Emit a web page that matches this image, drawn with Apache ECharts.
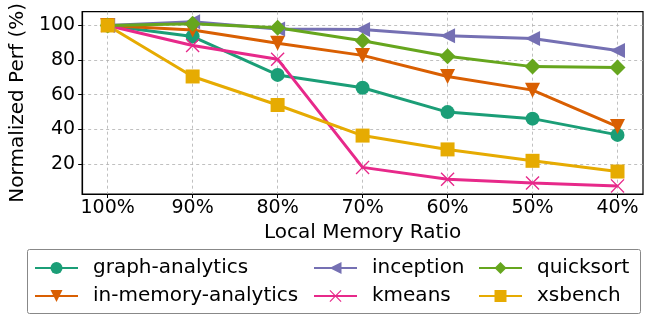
<!DOCTYPE html>
<html>
<head>
<meta charset="utf-8">
<script src="https://cdn.jsdelivr.net/npm/echarts@6/dist/echarts.min.js"></script>
<style>
  html, body { margin: 0; padding: 0; background: #fff; }
  #chart { width: 653px; height: 316px; }
</style>
</head>
<body>
<div id="chart"></div>
<script>
// x positions 0..6 stand for these ratios
const ratios = ['100%', '90%', '80%', '70%', '60%', '50%', '40%'];
const yTicks = [20, 40, 60, 80, 100];

const graphAnalytics = [100, 93.6, 71.4, 64.0, 49.9, 46.1, 36.7];
const inMemoryAnalytics = [100, 97.4, 89.7, 82.7, 70.5, 62.6, 41.5];
const inception = [100, 102.2, 98.0, 97.7, 94.0, 92.5, 85.5];
const kmeans = [100, 88.4, 80.5, 17.9, 11.0, 8.9, 7.2];
const quicksort = [100, 101.0, 98.7, 91.2, 82.2, 76.2, 75.7];
const xsbench = [100, 70.5, 54.0, 36.3, 28.3, 21.7, 15.5];

const FONT = 'DejaVu Sans';

const shapes = {
  circle: 'circle',
  triDown: 'path://M0,0L10,0L5,10Z',
  triLeft: 'path://M0,5L10,0L10,10Z',
  cross: 'path://M0,0.7L0.7,0L5,4.3L9.3,0L10,0.7L5.7,5L10,9.3L9.3,10L5,5.7L0.7,10L0,9.3L4.3,5Z',
  diamond: 'path://M5,0L10,5L5,10L0,5Z',
  square: 'rect'
};

// plot order (matplotlib legend goes column by column)
const seriesDefs = [
  { name: 'graph-analytics', data: graphAnalytics, color: '#1b9e77', symbol: shapes.circle, size: 14 },
  { name: 'in-memory-analytics', data: inMemoryAnalytics, color: '#d95f02', symbol: shapes.triDown, size: 15 },
  { name: 'inception', data: inception, color: '#7570b3', symbol: shapes.triLeft, size: 15 },
  { name: 'kmeans', data: kmeans, color: '#e7298a', symbol: shapes.cross, size: 14 },
  { name: 'quicksort', data: quicksort, color: '#66a61e', symbol: shapes.diamond, size: 16 },
  { name: 'xsbench', data: xsbench, color: '#e6ab02', symbol: shapes.square, size: 14 }
];

const series = seriesDefs.map(function (s) {
  return {
    name: s.name,
    type: 'line',
    data: s.data.map(function (v, i) { return [i, v]; }),
    symbol: s.symbol,
    symbolSize: s.size,
    showAllSymbol: true,
    color: s.color,
    lineStyle: { width: 3, color: s.color },
    itemStyle: { color: s.color, opacity: 1 },
    emphasis: { disabled: true },
    animation: false
  };
});

function legendCol(names, left) {
  return {
    orient: 'vertical',
    left: left,
    top: 258,
    padding: 0,
    itemGap: 8,
    itemWidth: 43,
    itemHeight: 15,
    data: names,
    textStyle: { fontFamily: FONT, fontSize: 20, lineHeight: 20, color: '#000', padding: [0, 0, 0, 10] },
    selectedMode: false
  };
}

const chart = echarts.init(document.getElementById('chart'));
chart.setOption({
  backgroundColor: '#fff',
  animation: false,
  grid: {
    left: 79, right: 10, top: 7, bottom: 122,
    show: true, borderColor: '#000', borderWidth: 1.2, backgroundColor: 'transparent'
  },
  xAxis: {
    type: 'value',
    min: -0.3,
    max: 6.3,
    name: 'Local Memory Ratio',
    nameLocation: 'middle',
    nameGap: 29,
    nameTextStyle: { fontFamily: FONT, fontSize: 20, color: '#000' },
    axisLine: { show: true, onZero: false, lineStyle: { color: '#000', width: 1.2 } },
    axisTick: { show: true, length: 4, lineStyle: { color: '#000' }, customValues: [0, 1, 2, 3, 4, 5, 6] },
    axisLabel: {
      fontFamily: FONT, fontSize: 19, color: '#000', margin: 5,
      customValues: [0, 1, 2, 3, 4, 5, 6],
      formatter: function (v) { return ratios[Math.round(v)]; }
    },
    splitLine: { show: true, lineStyle: { color: '#b0b0b0', type: [3, 3], width: 0.8 } }
  },
  yAxis: {
    type: 'value',
    min: 2.5,
    max: 108,
    name: 'Normalized Perf (%)',
    nameLocation: 'middle',
    nameGap: 51,
    nameTextStyle: { fontFamily: FONT, fontSize: 20, color: '#000' },
    axisLine: { show: true, onZero: false, lineStyle: { color: '#000', width: 1.2 } },
    axisTick: { show: true, length: 4, lineStyle: { color: '#000' }, customValues: yTicks },
    axisLabel: { fontFamily: FONT, fontSize: 19, color: '#000', margin: 7, customValues: yTicks },
    splitLine: { show: true, lineStyle: { color: '#b0b0b0', type: [3, 3], width: 0.8 } }
  },
  legend: [
    legendCol(['graph-analytics', 'in-memory-analytics'], 34),
    legendCol(['inception', 'kmeans'], 313),
    legendCol(['quicksort', 'xsbench'], 478)
  ],
  graphic: [{
    type: 'rect',
    shape: { x: 27.5, y: 249.5, width: 613, height: 64, r: 2 },
    style: { fill: 'none', stroke: '#888', lineWidth: 1 },
    z: 100
  }],
  series: series
});
</script>
</body>
</html>
